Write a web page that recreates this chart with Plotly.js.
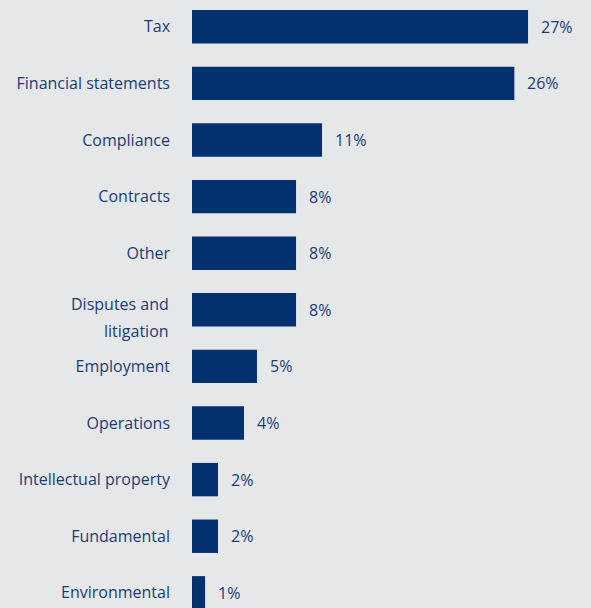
<!DOCTYPE html>
<html>
<head>
<meta charset="utf-8">
<script src="https://cdn.plot.ly/plotly-3.0.1.min.js"></script>
<style>
  html, body { margin: 0; padding: 0; background: #e6e7e9; }
  #chart { width: 591px; height: 608px; }
</style>
</head>
<body>
<div id="chart"></div>
<script>
// Categories (top to bottom); "|" marks a line break in the printed label
const categories = [
  "Tax",
  "Financial statements",
  "Compliance",
  "Contracts",
  "Other",
  "Disputes and|litigation",
  "Employment",
  "Operations",
  "Intellectual property",
  "Fundamental",
  "Environmental"
];
// Bar lengths (percent)
const values = [27, 25.9, 10.45, 8.36, 8.36, 8.36, 5.22, 4.18, 2.09, 2.09, 1.05];
// Value labels as printed
const valueLabels = ["27%", "26%", "11%", "8%", "8%", "8%", "5%", "4%", "2%", "2%", "1%"];

const navy = "#03306f";
const textColor = "#1a3c78";
const bg = "#e6e7e9";
const fontFamily = "'Open Sans', 'Noto Sans', sans-serif";
const font = { family: fontFamily, size: 16, color: textColor };

const idx = categories.map((_, i) => i);

const trace = {
  type: "bar",
  orientation: "h",
  y: idx,
  x: values,
  marker: { color: navy, line: { width: 0 } },
  width: 0.59,
  hoverinfo: "skip"
};

// single-line category names go through the axis tick labels;
// multi-line ones are set line by line with wider line spacing
const tickText = categories.map(c => c.includes("|") ? "" : c);

const annotations = values.map((v, i) => ({
  x: v, y: i, xref: "x", yref: "y",
  text: valueLabels[i],
  showarrow: false, xanchor: "left", yanchor: "middle",
  xshift: 11, font: font
}));

categories.forEach((c, i) => {
  if (!c.includes("|")) return;
  const lines = c.split("|");
  const shifts = [6, -21];
  lines.forEach((ln, k) => {
    annotations.push({
      x: 0, y: i, xref: "paper", yref: "y",
      text: ln, showarrow: false,
      xanchor: "right", yanchor: "middle",
      xshift: -21, yshift: shifts[k], font: font
    });
  });
});

const layout = {
  width: 591,
  height: 608,
  margin: { l: 192, r: 0, t: 0, b: 0, pad: 0 },
  paper_bgcolor: bg,
  plot_bgcolor: bg,
  showlegend: false,
  bargap: 0.41,
  xaxis: {
    range: [0, 32.06],
    visible: false,
    showgrid: false,
    zeroline: false,
    fixedrange: true
  },
  yaxis: {
    tickmode: "array",
    tickvals: idx,
    ticktext: tickText,
    range: [10.268, -0.4735],
    showgrid: false,
    zeroline: false,
    showline: false,
    ticks: "",
    ticklabelstandoff: 21,
    tickfont: font,
    fixedrange: true
  },
  annotations: annotations
};

Plotly.newPlot("chart", [trace], layout, { displayModeBar: false, staticPlot: true });
</script>
</body>
</html>
